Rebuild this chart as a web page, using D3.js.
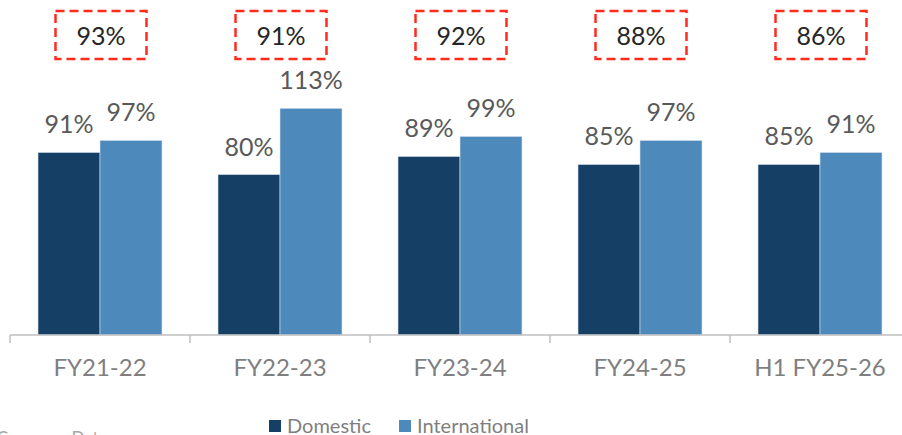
<!DOCTYPE html>
<html>
<head>
<meta charset="utf-8">
<script src="https://cdn.jsdelivr.net/npm/d3@7"></script>
<style>
  body { margin: 0; background: #fff; }
  svg { display: block; font-family: Lato, "Open Sans", sans-serif; }
</style>
</head>
<body>
<script>
var categories = ["FY21-22", "FY22-23", "FY23-24", "FY24-25", "H1 FY25-26"];
var series = ["Domestic", "International"];
var domestic = [91, 80, 89, 85, 85];
var international = [97, 113, 99, 97, 91];
var overall = [93, 91, 92, 88, 86];

var colors = { Domestic: "#163f66", International: "#4d89bb" };

var w = 902, h = 435, baseY = 335;

var svg = d3.select("body").append("svg")
  .attr("width", w)
  .attr("height", h);

var x0 = d3.scaleBand().domain(categories).range([10, 910]).padding(0);
var x1 = d3.scaleBand().domain(series).range([28, 152]).padding(0);
var y = d3.scaleLinear().domain([0, 1.6]).range([baseY, 14]);

var rows = categories.map(function (c, i) {
  return { cat: c, Domestic: domestic[i], International: international[i], overall: overall[i] };
});

// bars
var groups = svg.selectAll("g.cat")
  .data(rows)
  .enter()
  .append("g")
  .attr("class", "cat")
  .attr("transform", function (d) { return "translate(" + x0(d.cat) + ",0)"; });

groups.selectAll("rect")
  .data(function (d) {
    return series.map(function (s) { return { key: s, value: d[s] }; });
  })
  .enter()
  .append("rect")
  .attr("x", function (d) { return x1(d.key); })
  .attr("y", function (d) { return y(d.value / 100); })
  .attr("width", x1.bandwidth())
  .attr("height", function (d) { return baseY - y(d.value / 100); })
  .attr("fill", function (d) { return colors[d.key]; })
  .attr("stroke", "#dbe5f0")
  .attr("stroke-width", 0.6);

// data labels
groups.selectAll("text.val")
  .data(function (d) {
    return series.map(function (s) { return { key: s, value: d[s] }; });
  })
  .enter()
  .append("text")
  .attr("class", "val")
  .attr("x", function (d) { return x1(d.key) + x1.bandwidth() / 2; })
  .attr("y", function (d) { return y(d.value / 100) - 19; })
  .attr("text-anchor", "middle")
  .attr("font-size", "25px")
  .attr("fill", "#595959")
  .text(function (d) { return d.value + "%"; });

// dashed boxes with overall value
var boxW = 91, boxH = 48, boxY = 11;
groups.append("rect")
  .attr("x", x0.bandwidth() / 2 - boxW / 2 + 1)
  .attr("y", boxY)
  .attr("width", boxW)
  .attr("height", boxH)
  .attr("fill", "none")
  .attr("stroke", "#ff2b1c")
  .attr("stroke-width", 2.5)
  .attr("stroke-dasharray", "9,5");

groups.append("text")
  .attr("x", x0.bandwidth() / 2 + 1)
  .attr("y", boxY + 34)
  .attr("text-anchor", "middle")
  .attr("font-size", "25px")
  .attr("fill", "#262626")
  .text(function (d) { return d.overall + "%"; });

// x axis (ticks at category boundaries)
var axis = svg.append("g").attr("class", "x axis");
axis.append("line")
  .attr("x1", x0.range()[0])
  .attr("x2", x0.range()[1])
  .attr("y1", baseY)
  .attr("y2", baseY)
  .attr("stroke", "#bfbfbf")
  .attr("stroke-width", 1.5);

var bounds = categories.map(function (c) { return x0(c); });
bounds.push(x0.range()[1]);
axis.selectAll("line.tick")
  .data(bounds)
  .enter()
  .append("line")
  .attr("class", "tick")
  .attr("x1", function (d) { return d; })
  .attr("x2", function (d) { return d; })
  .attr("y1", baseY)
  .attr("y2", baseY + 8)
  .attr("stroke", "#bfbfbf")
  .attr("stroke-width", 1.5);

axis.selectAll("text")
  .data(categories)
  .enter()
  .append("text")
  .attr("x", function (d) { return x0(d) + x0.bandwidth() / 2; })
  .attr("y", 376)
  .attr("text-anchor", "middle")
  .attr("font-size", "24px")
  .attr("fill", "#7f7f7f")
  .text(function (d) { return d; });

// legend
var legendX = [269, 399];
var legend = svg.selectAll("g.legend")
  .data(series)
  .enter()
  .append("g")
  .attr("class", "legend")
  .attr("transform", function (d, i) { return "translate(" + legendX[i] + ",0)"; });

legend.append("rect")
  .attr("x", 0)
  .attr("y", 420)
  .attr("width", 12)
  .attr("height", 12)
  .attr("fill", function (d) { return colors[d]; });

legend.append("text")
  .attr("x", 18)
  .attr("y", 433)
  .attr("font-size", "20px")
  .attr("fill", "#7f7f7f")
  .text(function (d) { return d; });

// source note (cut off at the bottom, as in the original)
svg.append("text")
  .attr("x", 107)
  .attr("y", 444)
  .attr("text-anchor", "end")
  .attr("font-size", "17px")
  .attr("fill", "#a6a6a6")
  .text("Source: Company Data");
</script>
</body>
</html>
